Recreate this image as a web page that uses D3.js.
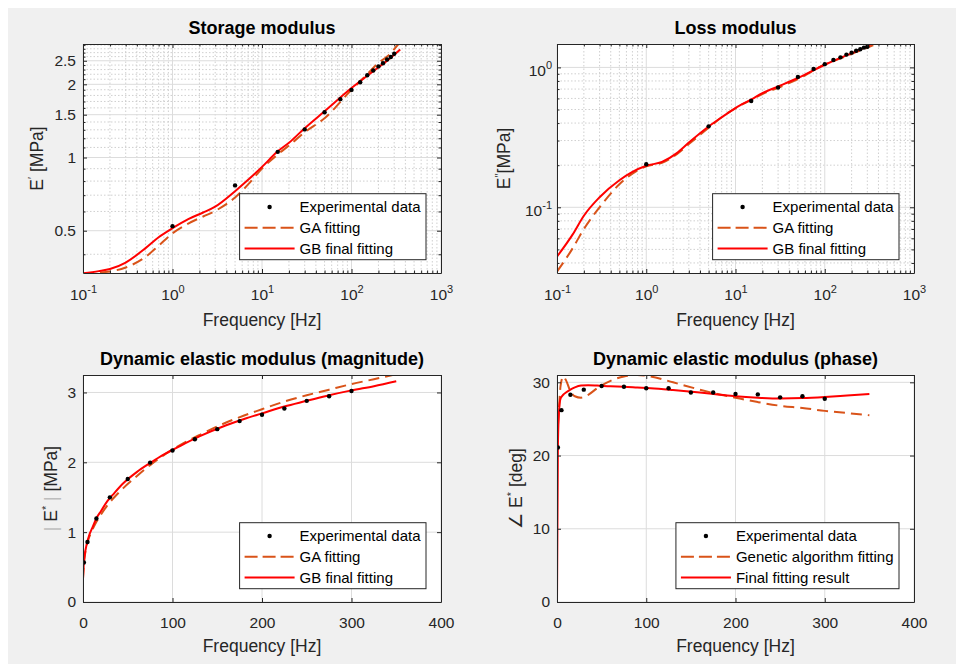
<!DOCTYPE html>
<html lang="en">
<head>
<meta charset="utf-8">
<title>Dynamic modulus fitting</title>
<style>
  body { margin: 0; background: #fff; }
  svg { display: block; }
</style>
</head>
<body>
<div id="chart"></div>
<script src="https://cdn.jsdelivr.net/npm/d3@7"></script>
<script>
(function(d3) {
    'use strict';

    // measured points (same frequencies in every panel)
    var expFreq    = [1, 5, 15, 30, 50, 75, 100, 125, 150, 175, 200, 225, 250, 275, 300];
    var expStorage = [0.522, 0.768, 1.055, 1.305, 1.535, 1.738, 1.897, 2.04, 2.18, 2.28, 2.37, 2.44, 2.53, 2.59, 2.67];
    var expLoss    = [0.203, 0.379, 0.575, 0.718, 0.855, 0.975, 1.055, 1.13, 1.18, 1.235, 1.275, 1.315, 1.348, 1.385, 1.404];
    var expMag     = [0.565, 0.858, 1.195, 1.498, 1.76, 1.996, 2.17, 2.33, 2.475, 2.59, 2.68, 2.77, 2.88, 2.945, 3.02];
    var expPhase   = [21.1, 26.2, 28.3, 29.0, 29.5, 29.4, 29.2, 29.2, 28.6, 28.6, 28.4, 28.35, 27.95, 28.1, 27.75];

    // fitted curves on the log-frequency panels
    var logFreq   = [0.1, 0.15, 0.2, 0.3, 0.5, 0.7, 1, 1.5, 2.2, 3, 5, 7, 10, 15, 20, 30, 50, 100, 150, 200, 250, 350];
    var gaStorage = [0.333, 0.336, 0.34, 0.353, 0.39, 0.434, 0.488, 0.535, 0.572, 0.603, 0.685, 0.775, 0.9, 1.03, 1.12, 1.27, 1.45, 1.9, 2.2, 2.45, 2.6, 2.99];
    var gbStorage = [0.334, 0.341, 0.348, 0.37, 0.424, 0.47, 0.512, 0.558, 0.594, 0.628, 0.727, 0.81, 0.915, 1.06, 1.15, 1.32, 1.55, 1.93, 2.17, 2.35, 2.5, 2.78];
    var gaLoss    = [0.0347, 0.051, 0.07, 0.1, 0.146, 0.174, 0.196, 0.208, 0.24, 0.283, 0.37, 0.44, 0.512, 0.585, 0.645, 0.715, 0.825, 1.05, 1.16, 1.25, 1.32, 1.44];
    var gbLoss    = [0.0444, 0.064, 0.087, 0.118, 0.156, 0.179, 0.198, 0.211, 0.244, 0.29, 0.378, 0.44, 0.512, 0.59, 0.655, 0.73, 0.84, 1.045, 1.17, 1.26, 1.34, 1.49];

    // fitted curves on the linear-frequency panels
    var linFreq = [0, 1, 2, 4, 7, 10, 15, 20, 27, 35, 45, 60, 75, 90, 105, 130, 160, 180, 200, 225, 250, 275, 300, 325, 350];
    var gaMag   = [0.33, 0.55, 0.66, 0.8, 0.93, 1.02, 1.15, 1.25, 1.38, 1.5, 1.63, 1.8, 1.96, 2.1, 2.22, 2.39, 2.57, 2.67, 2.76, 2.87, 2.96, 3.04, 3.12, 3.19, 3.26];
    var gbMag   = [0.337, 0.57, 0.68, 0.82, 0.96, 1.05, 1.2, 1.3, 1.44, 1.56, 1.7, 1.86, 1.99, 2.11, 2.21, 2.37, 2.53, 2.62, 2.7, 2.8, 2.88, 2.96, 3.03, 3.09, 3.16];
    var gaPhase = [22, 24, 26, 29.5, 30.8, 30.3, 28.8, 28.1, 27.9, 28.3, 29.2, 30.2, 30.8, 31.0, 30.8, 30.0, 29.0, 28.4, 27.9, 27.3, 26.8, 26.5, 26.1, 25.8, 25.5];
    var gbPhase = [0, 21, 25.5, 27.8, 28.3, 28.6, 29.0, 29.3, 29.55, 29.6, 29.55, 29.45, 29.4, 29.3, 29.2, 28.95, 28.6, 28.35, 28.1, 27.9, 27.8, 27.85, 28.0, 28.2, 28.4];

    // ticks
    var logXTicks     = [0.1, 1, 10, 100, 1000];
    var linXTicks     = [0, 100, 200, 300, 400];
    var storageYTicks = [0.5, 1, 1.5, 2, 2.5];
    var lossYTicks    = [0.1, 1];
    var magYTicks     = [0, 1, 2, 3];
    var phaseYTicks   = [0, 10, 20, 30];

    var ink = '#262626';
    var red = '#ff0000';
    var orange = '#d95319';

    var svg = d3.select('#chart').append('svg')
        .attr('width', 963)
        .attr('height', 664)
        .style('font-family', '"Liberation Sans", Arial, Helvetica, sans-serif');

    svg.append('rect')
        .attr('x', 8).attr('y', 8)
        .attr('width', 948).attr('height', 656)
        .attr('fill', '#f0f0f0');

    function logMinors(lo, hi) {
        var out = [];
        for (var e = Math.floor(Math.log10(lo)); e <= Math.ceil(Math.log10(hi)); e++) {
            for (var m = 2; m <= 9; m++) {
                var v = m * Math.pow(10, e);
                if (v > lo && v < hi) out.push(v);
            }
        }
        return out;
    }

    function supLabel(sel, d) {
        sel.text(null);
        sel.append('tspan').text('10');
        sel.append('tspan').attr('dy', -7).attr('font-size', 11)
            .text(String(Math.round(Math.log10(d))));
    }

    var panelNo = 0;

    function drawPanel(p) {
        panelNo++;
        var w = p.right - p.left;
        var h = p.bottom - p.top;
        var x = p.x.range([0, w]);
        var y = p.y.range([h, 0]);

        var g = svg.append('g')
            .attr('transform', 'translate(' + p.left + ',' + p.top + ')');

        g.append('rect').attr('width', w).attr('height', h).attr('fill', '#fff');

        var grid = g.append('g').attr('fill', 'none');

        // minor grid, dotted
        if (p.xMinor) {
            grid.selectAll('.xm').data(p.xMinor).enter().append('line')
                .attr('x1', function(d) { return x(d); })
                .attr('x2', function(d) { return x(d); })
                .attr('y1', 0).attr('y2', h)
                .attr('stroke', '#c4c4c4').attr('stroke-width', 0.8)
                .attr('stroke-dasharray', '1.5,2');
        }
        if (p.yMinor) {
            grid.selectAll('.ym').data(p.yMinor).enter().append('line')
                .attr('x1', 0).attr('x2', w)
                .attr('y1', function(d) { return y(d); })
                .attr('y2', function(d) { return y(d); })
                .attr('stroke', '#c4c4c4').attr('stroke-width', 0.8)
                .attr('stroke-dasharray', '1.5,2');
        }

        // major grid
        grid.selectAll('.xg').data(p.xTicks).enter().append('line')
            .attr('x1', function(d) { return x(d); })
            .attr('x2', function(d) { return x(d); })
            .attr('y1', 0).attr('y2', h)
            .attr('stroke', '#dcdcdc');
        grid.selectAll('.yg').data(p.yTicks).enter().append('line')
            .attr('x1', 0).attr('x2', w)
            .attr('y1', function(d) { return y(d); })
            .attr('y2', function(d) { return y(d); })
            .attr('stroke', '#dcdcdc');

        // curves
        var clip = 'clip' + panelNo;
        g.append('clipPath').attr('id', clip)
            .append('rect').attr('width', w).attr('height', h);

        var plot = g.append('g').attr('clip-path', 'url(#' + clip + ')');

        p.lines.forEach(function(s) {
            var pts = s.x.map(function(f, i) { return [f, s.y[i]]; });
            var line = d3.line()
                .x(function(d) { return x(d[0]); })
                .y(function(d) { return y(d[1]); })
                .curve(d3.curveMonotoneX);
            plot.append('path')
                .datum(pts)
                .attr('d', line)
                .attr('fill', 'none')
                .attr('stroke', s.dashed ? orange : red)
                .attr('stroke-width', 2)
                .attr('stroke-dasharray', s.dashed ? '11,6' : null);
        });

        plot.selectAll('.dot').data(p.dots.x).enter().append('circle')
            .attr('cx', function(d) { return x(d); })
            .attr('cy', function(d, i) { return y(p.dots.y[i]); })
            .attr('r', 2.2)
            .attr('fill', '#000');

        // axes with inward ticks on all four sides
        var fs = 15.5;
        var xAxis = g.append('g').attr('transform', 'translate(0,' + h + ')')
            .call(d3.axisBottom(x).tickValues(p.xTicks).tickSizeInner(-4).tickSizeOuter(0));
        g.append('g')
            .call(d3.axisTop(x).tickValues(p.xTicks).tickSizeInner(-4).tickSizeOuter(0).tickFormat(''));
        var yAxis = g.append('g')
            .call(d3.axisLeft(y).tickValues(p.yTicks).tickSizeInner(-4).tickSizeOuter(0));
        g.append('g').attr('transform', 'translate(' + w + ',0)')
            .call(d3.axisRight(y).tickValues(p.yTicks).tickSizeInner(-4).tickSizeOuter(0).tickFormat(''));

        if (p.xMinor) {
            g.append('g').attr('transform', 'translate(0,' + h + ')')
                .call(d3.axisBottom(x).tickValues(p.xMinor).tickSize(-2.5).tickFormat(''))
                .call(function(a) { a.select('.domain').remove(); });
            g.append('g')
                .call(d3.axisTop(x).tickValues(p.xMinor).tickSize(-2.5).tickFormat(''))
                .call(function(a) { a.select('.domain').remove(); });
        }
        if (p.yMinor) {
            g.append('g')
                .call(d3.axisLeft(y).tickValues(p.yMinor).tickSize(-2.5).tickFormat(''))
                .call(function(a) { a.select('.domain').remove(); });
            g.append('g').attr('transform', 'translate(' + w + ',0)')
                .call(d3.axisRight(y).tickValues(p.yMinor).tickSize(-2.5).tickFormat(''))
                .call(function(a) { a.select('.domain').remove(); });
        }

        g.selectAll('.domain, .tick line').attr('stroke', ink);
        g.selectAll('.tick text').attr('fill', ink).attr('font-size', fs)
            .attr('font-family', null);

        xAxis.selectAll('.tick text')
            .attr('dy', null)
            .attr('y', p.xLog ? 27 : 26)
            .each(function(d) { if (p.xLog) supLabel(d3.select(this), d); });

        yAxis.selectAll('.tick text')
            .attr('x', p.yLog ? -5 : -7)
            .each(function(d) {
                if (p.yLog) {
                    d3.select(this).attr('dy', null).attr('y', 8);
                    supLabel(d3.select(this), d);
                } else {
                    d3.select(this).text(d3.format('')(d));
                }
            });

        // title and axis labels
        g.append('text')
            .attr('x', w / 2).attr('y', -10.5)
            .attr('text-anchor', 'middle')
            .attr('font-size', 18).attr('font-weight', 'bold')
            .attr('fill', '#000')
            .text(p.title);

        g.append('text')
            .attr('x', w / 2).attr('y', h + (p.xLog ? 53 : 50))
            .attr('text-anchor', 'middle')
            .attr('font-size', 17.5)
            .attr('fill', ink)
            .text('Frequency [Hz]');

        var yl = g.append('text')
            .attr('transform', 'translate(' + p.yLabelX + ',' + (h / 2) + ') rotate(-90)')
            .attr('text-anchor', 'middle')
            .attr('dy', '0.35em')
            .attr('font-size', 17.5)
            .attr('fill', ink);
        p.yLabel.forEach(function(part) {
            var t = yl.append('tspan').text(part.t);
            if (part.sup) t.attr('dy', -7).attr('font-size', 11);
            if (part.down) t.attr('dy', 7);
            if (part.fill) t.attr('fill', part.fill);
        });

        // legend
        var lg = g.append('g');
        var box = lg.append('rect')
            .attr('fill', '#fff').attr('stroke', ink).attr('stroke-width', 1);
        var rows = [
            { kind: 'dot', label: p.legend[0] },
            { kind: 'ga', label: p.legend[1] },
            { kind: 'gb', label: p.legend[2] }
        ];
        var maxW = 0;
        rows.forEach(function(r, i) {
            var cy = 13.3 + i * 20.8;
            if (r.kind === 'dot') {
                lg.append('circle').attr('cx', 30).attr('cy', cy).attr('r', 2.2).attr('fill', '#000');
            } else {
                lg.append('line')
                    .attr('x1', 5).attr('x2', 55).attr('y1', cy).attr('y2', cy)
                    .attr('stroke', r.kind === 'ga' ? orange : red)
                    .attr('stroke-width', 2)
                    .attr('stroke-dasharray', r.kind === 'ga' ? '13,5' : null);
            }
            var t = lg.append('text')
                .attr('x', 60).attr('y', cy + 5.3)
                .attr('font-size', 15)
                .attr('fill', '#000')
                .text(r.label);
            maxW = Math.max(maxW, t.node().getComputedTextLength());
        });
        var bw = 60 + maxW + 5.5;
        var bh = 66;
        box.attr('width', bw).attr('height', bh);
        lg.attr('transform', 'translate(' + (w - 15 - bw) + ',' + (h - 13.3 - bh) + ')');
    }

    var legendGB = ['Experimental data', 'GA fitting', 'GB final fitting'];

    drawPanel({
        left: 83, right: 441, top: 44, bottom: 273,
        title: 'Storage modulus',
        x: d3.scaleLog().domain([0.1, 1000]), xLog: true,
        y: d3.scaleLog().domain([0.335, 2.93]), yLog: false,
        xTicks: logXTicks, xMinor: logMinors(0.1, 1000),
        yTicks: storageYTicks,
        yMinor: d3.range(4, 30).map(function(v) { return v / 10; })
            .filter(function(v) { return v % 0.5 !== 0 && storageYTicks.indexOf(v) < 0; }),
        lines: [
            { x: logFreq, y: gaStorage, dashed: true },
            { x: logFreq, y: gbStorage }
        ],
        dots: { x: expFreq, y: expStorage },
        yLabelX: -46,
        yLabel: [{ t: 'E' }, { t: '\u2032', sup: true }, { t: ' [MPa]', down: true }],
        legend: legendGB
    });

    drawPanel({
        left: 557, right: 914, top: 44, bottom: 273,
        title: 'Loss modulus',
        x: d3.scaleLog().domain([0.1, 1000]), xLog: true,
        y: d3.scaleLog().domain([0.0339, 1.47]), yLog: true,
        xTicks: logXTicks, xMinor: logMinors(0.1, 1000),
        yTicks: lossYTicks, yMinor: logMinors(0.0339, 1.47),
        lines: [
            { x: logFreq, y: gaLoss, dashed: true },
            { x: logFreq, y: gbLoss }
        ],
        dots: { x: expFreq, y: expLoss },
        yLabelX: -53.5,
        yLabel: [{ t: 'E' }, { t: '\u2032\u2032', sup: true }, { t: '[MPa]', down: true }],
        legend: legendGB
    });

    drawPanel({
        left: 83, right: 441, top: 375, bottom: 602,
        title: 'Dynamic elastic modulus (magnitude)',
        x: d3.scaleLinear().domain([0, 400]),
        y: d3.scaleLinear().domain([0, 3.25]),
        xTicks: linXTicks, yTicks: magYTicks,
        lines: [
            { x: linFreq, y: gaMag, dashed: true },
            { x: linFreq, y: gbMag }
        ],
        dots: { x: expFreq, y: expMag },
        yLabelX: -32,
        yLabel: [{ t: '| ', fill: '#bdbdbd' }, { t: 'E' }, { t: '*', sup: true },
                 { t: ' |', down: true, fill: '#bdbdbd' }, { t: ' [MPa]' }],
        legend: legendGB
    });

    drawPanel({
        left: 557, right: 914, top: 375, bottom: 602,
        title: 'Dynamic elastic modulus (phase)',
        x: d3.scaleLinear().domain([0, 400]),
        y: d3.scaleLinear().domain([0, 31]),
        xTicks: linXTicks, yTicks: phaseYTicks,
        lines: [
            { x: linFreq, y: gaPhase, dashed: true },
            { x: linFreq, y: gbPhase }
        ],
        dots: { x: expFreq, y: expPhase },
        yLabelX: -41,
        yLabel: [{ t: '\u2220 E' }, { t: '*', sup: true }, { t: ' [deg]', down: true }],
        legend: ['Experimental data', 'Genetic algorithm fitting', 'Final fitting result']
    });

})(window.d3);
</script>
</body>
</html>
